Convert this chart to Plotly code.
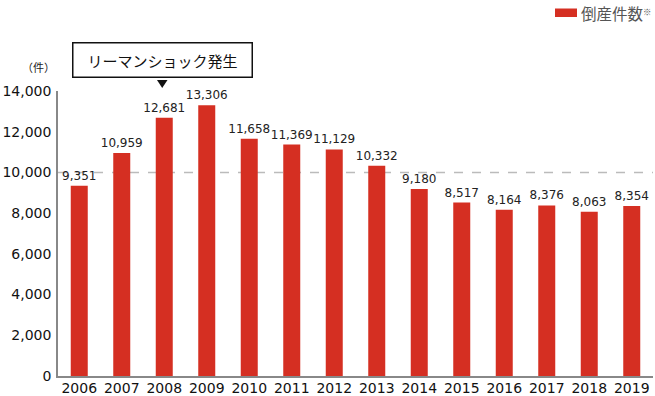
import plotly.graph_objects as go

years = ["2006", "2007", "2008", "2009", "2010", "2011", "2012", "2013",
         "2014", "2015", "2016", "2017", "2018", "2019"]
bankruptcies = [9351, 10959, 12681, 13306, 11658, 11369, 11129, 10332,
                9180, 8517, 8164, 8376, 8063, 8354]
y_ticks = [0, 2000, 4000, 6000, 8000, 10000, 12000, 14000]
series_name = "倒産件数"
event_label = "リーマンショック発生"

W, H = 655, 396
L, R, T, B = 58, 2, 91, 20
pw, ph = W - L - R, H - T - B


def px(x):
    return (x - L) / pw


def py(y):
    return (H - B - y) / ph


FONT = "DejaVu Sans, Verdana, Noto Sans CJK JP"
JP = "Noto Sans CJK JP, DejaVu Sans"
RED = "#d52f22"

fig = go.Figure()
fig.add_trace(go.Bar(
    x=years, y=bankruptcies, name=series_name,
    marker=dict(color=RED, line=dict(width=0)),
    width=0.4,
    text=[f"{v:,}" for v in bankruptcies],
    textposition="outside", cliponaxis=False, constraintext="none",
    textfont=dict(family=FONT, size=12, color="#222222"),
    showlegend=False, hoverinfo="skip",
))

fig.update_layout(
    width=W, height=H,
    margin=dict(l=L, r=R, t=T, b=B, autoexpand=False),
    paper_bgcolor="white", plot_bgcolor="white",
    font=dict(family=FONT, size=14, color="#111111"),
    xaxis=dict(showline=True, linecolor="#888888", linewidth=1.5,
               ticks="", tickfont=dict(size=14, color="#111111"),
               ticklabelstandoff=-2,
               showgrid=False, automargin=False),
    yaxis=dict(range=[0, 14000], tickvals=y_ticks, tickformat=",",
               showline=True, linecolor="#888888", linewidth=1.5,
               showgrid=False, zeroline=False, ticks="", automargin=False,
               ticklabelstandoff=2,
               tickfont=dict(size=14, color="#111111")),
)

# dashed reference line at 10,000
fig.add_shape(type="line", xref="paper", yref="y", x0=0, x1=1, y0=10000, y1=10000,
              line=dict(color="#bbbbbb", width=1.5, dash="dash"), layer="below")

# unit label
fig.add_annotation(xref="paper", yref="paper", x=px(38), y=py(67),
                   xanchor="center", yanchor="middle",
                   text="（件）", showarrow=False,
                   font=dict(family=JP, size=11, color="#222222"))

# event box
fig.add_annotation(xref="paper", yref="paper", x=px(162), y=py(59.5),
                   xanchor="center", yanchor="middle",
                   text=event_label, showarrow=False,
                   width=176, height=31,
                   bordercolor="#111111", borderwidth=1.5, bgcolor="white",
                   font=dict(family=JP, size=15, color="#111111"))
# triangle pointer
fig.add_shape(type="path", xref="paper", yref="paper",
              path=f"M {px(157)} {py(80)} L {px(167.5)} {py(80)} L {px(162.2)} {py(88)} Z",
              fillcolor="#111111", line=dict(width=0))

# legend
fig.add_shape(type="rect", xref="paper", yref="paper",
              x0=px(555), x1=px(577), y0=py(17), y1=py(8.5),
              fillcolor=RED, line=dict(width=0))
fig.add_annotation(xref="paper", yref="paper", x=px(579), y=py(12.5),
                   xanchor="left", yanchor="middle",
                   text=series_name + "<span style='font-size:12px'><sup>※</sup></span>",
                   showarrow=False,
                   font=dict(family=JP, size=15.5, color="#555555"))

fig.write_html("out.html", config={"displayModeBar": False},
               post_script="document.body.style.margin='0';document.body.style.overflow='hidden';")
